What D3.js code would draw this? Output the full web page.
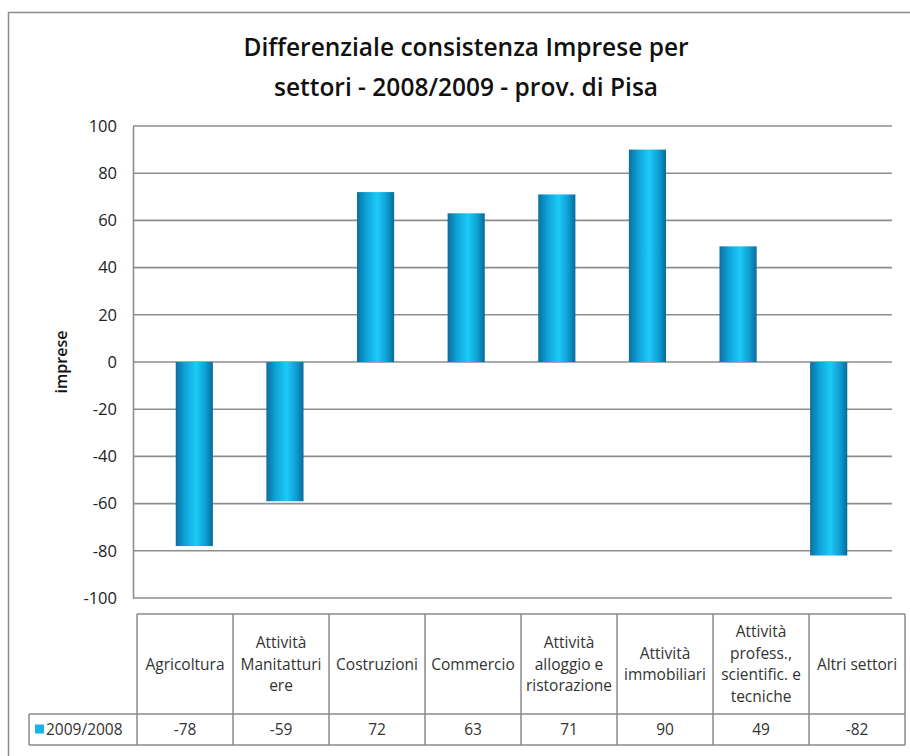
<!DOCTYPE html>
<html>
<head>
<meta charset="utf-8">
<script src="https://cdn.jsdelivr.net/npm/d3@7"></script>
<style>
  body { margin: 0; background: #fff; }
  svg { display: block; font-family: "Open Sans", "Lato", sans-serif; }
</style>
</head>
<body>
<div id="chart"></div>
<script>
// data
const titleLines = ["Differenziale consistenza Imprese per", "settori - 2008/2009 - prov. di Pisa"];
const categories = [
  ["Agricoltura"],
  ["Attività", "Manitatturi", "ere"],
  ["Costruzioni"],
  ["Commercio"],
  ["Attività", "alloggio e", "ristorazione"],
  ["Attività", "immobiliari"],
  ["Attività", "profess.,", "scientific. e", "tecniche"],
  ["Altri settori"]
];
const seriesName = "2009/2008";
const values = [-78, -59, 72, 63, 71, 90, 49, -82];
const yTicks = [-100, -80, -60, -40, -20, 0, 20, 40, 60, 80, 100];
const yLabel = "imprese";

const width = 910;
const height = 756;

const svg = d3.select("#chart")
  .append("svg")
    .attr("width", width)
    .attr("height", height);

// gradient for the cylinder bars
const defs = svg.append("defs");
const grad = defs.append("linearGradient")
    .attr("id", "barGrad")
    .attr("x1", "0%").attr("x2", "100%")
    .attr("y1", "0%").attr("y2", "0%");
grad.append("stop").attr("offset", "0%").attr("stop-color", "#0a6f9f");
grad.append("stop").attr("offset", "25%").attr("stop-color", "#0ea3d8");
grad.append("stop").attr("offset", "55%").attr("stop-color", "#1ccaf8");
grad.append("stop").attr("offset", "80%").attr("stop-color", "#0e9fd4");
grad.append("stop").attr("offset", "100%").attr("stop-color", "#086b98");

// outer frame
svg.append("rect")
    .attr("x", 8.5).attr("y", 12.5)
    .attr("width", 920).attr("height", 800)
    .attr("fill", "none")
    .attr("stroke", "#8c8c8c")
    .attr("stroke-width", 1.5);

// title
svg.append("g")
  .selectAll("text")
  .data(titleLines)
  .join("text")
    .attr("x", 466)
    .attr("y", (d, i) => 56 + i * 40)
    .attr("text-anchor", "middle")
    .attr("font-size", 24.5)
    .attr("font-weight", 600)
    .attr("fill", "#111")
    .text(d => d);

// scales
const yScale = d3.scaleLinear()
  .domain([-100, 100])
  .range([598, 126]);

const xScale = d3.scaleBand()
  .domain(d3.range(values.length))
  .range([149, 874])
  .paddingInner(0.59)
  .paddingOuter(0.295);

// gridlines
svg.append("g")
  .selectAll("line")
  .data(yTicks)
  .join("line")
    .attr("x1", 133).attr("x2", 892)
    .attr("y1", d => yScale(d)).attr("y2", d => yScale(d))
    .attr("stroke", "#8e8e8e")
    .attr("stroke-width", 1.6);

// y axis
const yAxis = d3.axisLeft(yScale)
  .tickValues(yTicks)
  .tickSize(0)
  .tickPadding(16)
  .tickFormat(d => String(d));

const yAxisG = svg.append("g")
    .attr("transform", "translate(133,0)")
    .call(yAxis);
yAxisG.select(".domain")
    .attr("stroke", "#8e8e8e")
    .attr("stroke-width", 1.6);
yAxisG.selectAll("text")
    .attr("font-size", 16.5)
    .attr("font-family", "Open Sans, sans-serif")
    .attr("fill", "#222");

svg.append("text")
    .attr("transform", `translate(67,${yScale(0)}) rotate(-90)`)
    .attr("text-anchor", "middle")
    .attr("font-size", 16)
    .attr("font-weight", 600)
    .attr("fill", "#111")
    .text(yLabel);

// bars
svg.append("g")
  .selectAll("rect")
  .data(values)
  .join("rect")
    .attr("x", (d, i) => xScale(i))
    .attr("y", d => yScale(Math.max(0, d)))
    .attr("width", xScale.bandwidth())
    .attr("height", d => Math.abs(yScale(d) - yScale(0)))
    .attr("fill", "url(#barGrad)");

// data table
const colX = d3.scaleLinear()
  .domain([0, categories.length])
  .range([137, 905]);
const tableTop = 614;
const headerBottom = 714;
const tableBottom = 745;
const legendLeft = 29;
const tableStroke = "#8a8a8a";
const tableFont = 15.5;

const table = svg.append("g").attr("fill", "none").attr("stroke", tableStroke).attr("stroke-width", 1.5);
table.append("line")
    .attr("x1", colX(0)).attr("x2", colX(categories.length))
    .attr("y1", tableTop).attr("y2", tableTop);
table.append("line")
    .attr("x1", legendLeft).attr("x2", colX(categories.length))
    .attr("y1", headerBottom).attr("y2", headerBottom);
table.append("line")
    .attr("x1", legendLeft).attr("x2", colX(categories.length))
    .attr("y1", tableBottom).attr("y2", tableBottom);
table.append("line")
    .attr("x1", legendLeft).attr("x2", legendLeft)
    .attr("y1", headerBottom).attr("y2", tableBottom);
table.selectAll(".col")
  .data(d3.range(categories.length + 1))
  .join("line")
    .attr("class", "col")
    .attr("x1", d => colX(d)).attr("x2", d => colX(d))
    .attr("y1", tableTop).attr("y2", tableBottom);

// header labels
const lineH = 21.5;
const headerMid = (tableTop + headerBottom) / 2;
svg.append("g")
  .selectAll("text")
  .data(categories)
  .join("text")
    .attr("text-anchor", "middle")
    .attr("font-size", tableFont)
    .attr("fill", "#333")
    .each(function (lines, i) {
      const t = d3.select(this);
      const y0 = headerMid - (lines.length - 1) * lineH / 2 + 5.5;
      t.selectAll("tspan")
        .data(lines)
        .join("tspan")
          .attr("x", colX(i + 0.5))
          .attr("y", (d, j) => y0 + j * lineH)
          .text(d => d);
    });

// value row
const rowMid = (headerBottom + tableBottom) / 2;
svg.append("g")
  .selectAll("text")
  .data(values)
  .join("text")
    .attr("x", (d, i) => colX(i + 0.5))
    .attr("y", rowMid + 5.5)
    .attr("text-anchor", "middle")
    .attr("font-size", tableFont)
    .attr("fill", "#333")
    .text(d => d);

// legend key
svg.append("rect")
    .attr("x", 35).attr("y", rowMid - 5)
    .attr("width", 9).attr("height", 9)
    .attr("fill", "#16b4ea");
svg.append("text")
    .attr("x", 46)
    .attr("y", rowMid + 5.5)
    .attr("font-size", tableFont)
    .attr("fill", "#333")
    .text(seriesName);
</script>
</body>
</html>
